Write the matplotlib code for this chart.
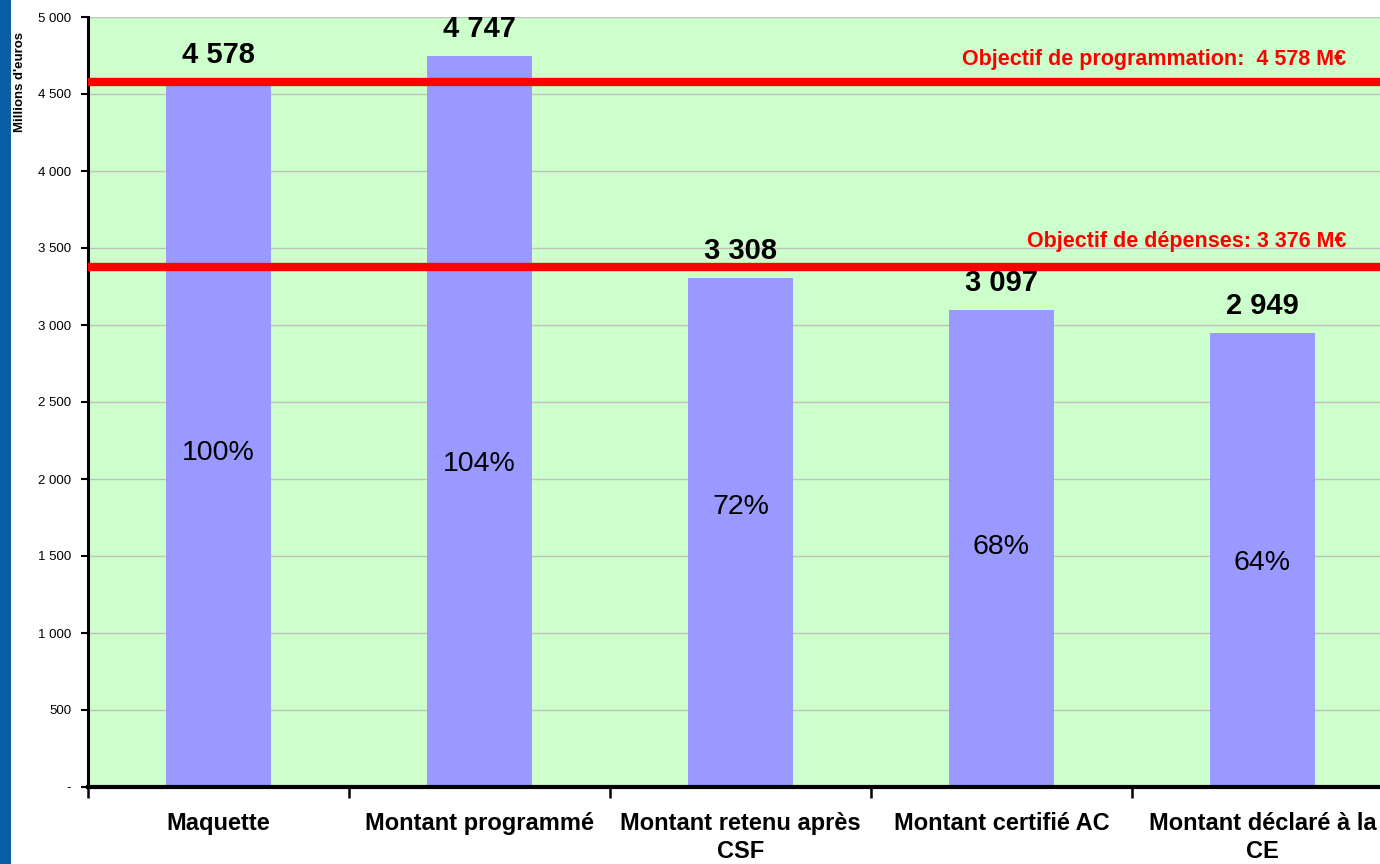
import matplotlib
matplotlib.use('Agg')
import matplotlib.pyplot as plt
from matplotlib.patches import Rectangle

# data (millions d'euros)
categories = ['Maquette', 'Montant programmé', 'Montant retenu après\nCSF',
              'Montant certifié AC', 'Montant déclaré à la\nCE']
values = [4578, 4747, 3308, 3097, 2949]
objectif_prog = 4578
objectif_dep = 3376
ytick_vals = [0, 500, 1000, 1500, 2000, 2500, 3000, 3500, 4000, 4500, 5000]

plt.rcParams['font.family'] = ['Liberation Sans', 'DejaVu Sans']

def fmt(v):
    if v == 0:
        return '-'
    return '{:,}'.format(v).replace(',', ' ')

fig = plt.figure(figsize=(13.8, 8.64), dpi=100)
fig.patch.set_facecolor('white')

# blue strip on the left edge of the slide
fig.patches.append(Rectangle((0, 0), 11 / 1380, 1, transform=fig.transFigure,
                             facecolor='#0B5DA8', edgecolor='none', zorder=0))

# axes run past the right edge like in the slide crop
ax = fig.add_axes([88 / 1380, 77 / 864, 1305 / 1380, 770 / 864])
ax.set_facecolor('#CCFFCC')

x = range(len(values))
ax.bar(x, values, width=0.4, color='#9999FF', zorder=2)

ax.set_xlim(-0.5, len(values) - 0.5)
ax.set_ylim(0, 5000)

ax.set_yticks(ytick_vals)
ax.set_yticklabels([fmt(v) for v in ytick_vals], fontsize=9.5)
ax.yaxis.grid(True, color='#C0C0C0', linewidth=1, zorder=1)
ax.set_axisbelow(True)
ax.tick_params(axis='y', length=5, width=1.5, pad=7)

# x ticks on category boundaries, labels in the middle
ax.set_xticks([i - 0.5 for i in range(len(values) + 1)])
ax.set_xticklabels([])
ax.set_xticks(list(x), minor=True)
ax.set_xticklabels(categories, minor=True, fontsize=17, fontweight='bold',
                   linespacing=1.3, va='top')
ax.tick_params(axis='x', which='major', length=8, width=1.8, direction='out')
ax.tick_params(axis='x', which='minor', length=0, pad=18)

for s in ['top', 'right']:
    ax.spines[s].set_visible(False)
ax.spines['left'].set_linewidth(2.2)
ax.spines['bottom'].set_linewidth(3)

# objective lines
ax.axhline(objectif_prog, xmin=0, xmax=0.988, color='#FF0000', linewidth=6, zorder=3)
ax.axhline(objectif_dep, xmin=0, xmax=0.988, color='#FF0000', linewidth=6, zorder=3)
ax.text(4.32, objectif_prog + 80, 'Objectif de programmation:  ' + fmt(objectif_prog) + ' M€',
        color='#FF0000', fontsize=15.5, fontweight='bold', ha='right', va='bottom')
ax.text(4.32, objectif_dep + 95, 'Objectif de dépenses: ' + fmt(objectif_dep) + ' M€',
        color='#FF0000', fontsize=15.5, fontweight='bold', ha='right', va='bottom')

# value labels above the bars
for i, v in enumerate(values):
    ax.annotate(fmt(v), (i, v), xytext=(0, 27), textcoords='offset pixels',
                ha='center', va='center', fontsize=21, fontweight='bold', zorder=4)

# percentage of the maquette inside the bars
pct_y = [2169, 2097, 1818, 1558, 1455]
for i, v in enumerate(values):
    pct = round(v / values[0] * 100)
    ax.text(i, pct_y[i], '{}%'.format(pct), ha='center', va='center',
            fontsize=20.5, zorder=4)

fig.text(20 / 1380, 1 - 82 / 864, "Millions d'euros", rotation=90,
         ha='center', va='center', fontsize=9.5, fontweight='bold')

fig.savefig('out.png', dpi=100)
